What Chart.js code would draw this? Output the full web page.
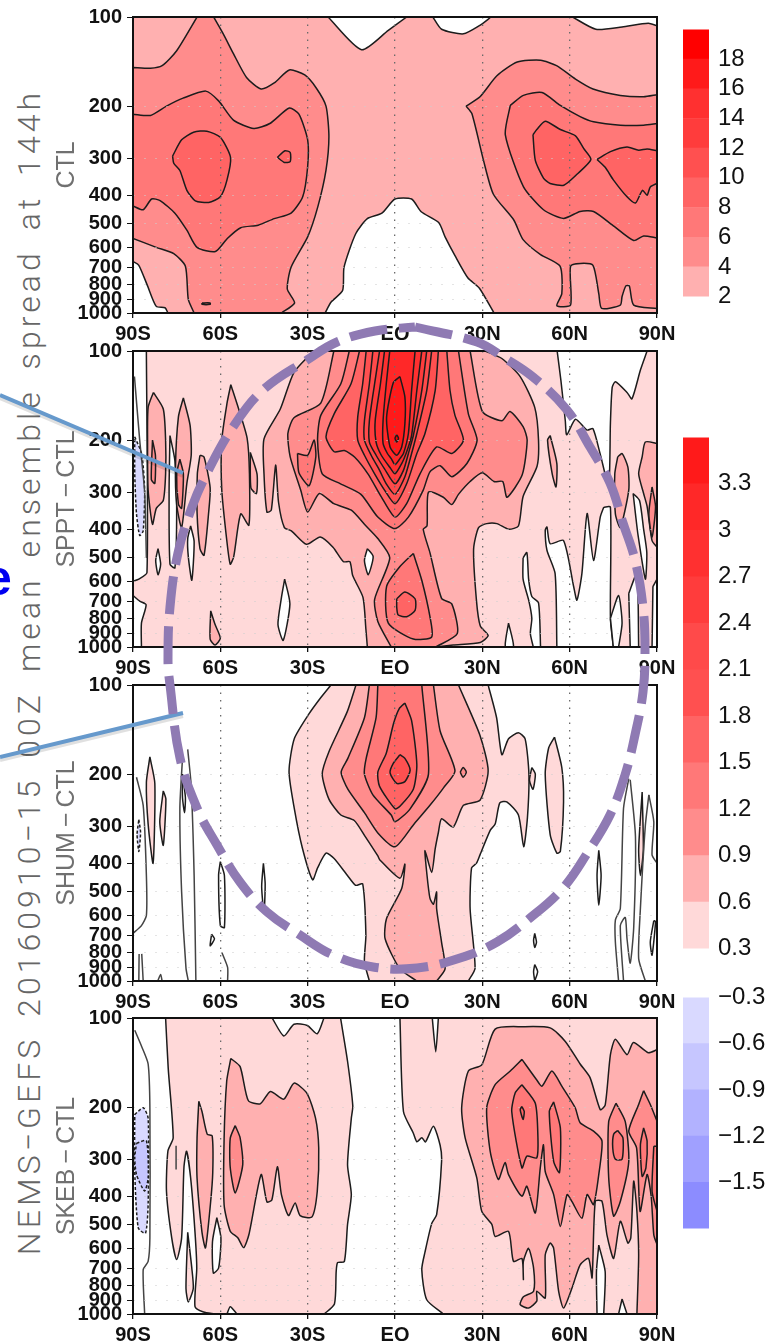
<!DOCTYPE html>
<html>
<head>
<meta charset="utf-8">
<title>NEMS-GEFS ensemble spread</title>
<script src="https://cdn.jsdelivr.net/npm/chart.js@4/dist/chart.umd.min.js"></script>
<style>
  html, body { margin: 0; padding: 0; background: #fff; }
  #page { position: relative; width: 780px; height: 1343px; overflow: hidden; }
  canvas { position: absolute; }
  #runTitle { position: absolute; left: 29px; top: 672px; transform: translate(-50%, -50%) rotate(-90deg);
    white-space: nowrap; font: 300 32px Roboto, "Liberation Sans", sans-serif; letter-spacing: 4.05px; word-spacing: 7px; color: #666; }
  #cutWord { position: absolute; left: -16px; top: 549px; font: bold 50px "Liberation Sans", sans-serif; color: #0000f0; }
</style>
</head>
<body>
<div id="page">
  <div id="runTitle">NEMS−GEFS 20160910−15 00Z mean ensemble spread at 144h</div>
  <div id="cutWord">e</div>
  <canvas id="c_ctl" width="629" height="340" style="left:52px;top:0px"></canvas>
  <canvas id="c_sppt" width="629" height="340" style="left:52px;top:334px"></canvas>
  <canvas id="c_shum" width="629" height="340" style="left:52px;top:668px"></canvas>
  <canvas id="c_skeb" width="629" height="340" style="left:52px;top:1001px"></canvas>
  <canvas id="c_bar1" width="97" height="314" style="left:683px;top:6px"></canvas>
  <canvas id="c_bar2" width="97" height="558" style="left:683px;top:414px"></canvas>
  <canvas id="c_bar3" width="97" height="278" style="left:683px;top:974px"></canvas>
  <canvas id="c_notes" width="780" height="1343" style="left:0;top:0"></canvas>
</div>
<script>
/* shades shared by the panels, lightest to darkest */
const WHITE = '#ffffff', S1 = '#ffd9d9', S2 = '#ffb0b0', S3 = '#ff8c8c', S4 = '#ff7878', S5 = '#ff6464',
      S6 = '#ff5050', S7 = '#ff4a4a', S8 = '#ff3c3c', S9 = '#ff3030', S10 = '#ff2828', S11 = '#ff1a1a', S12 = '#ff0000',
      B1 = '#d9d9ff', B2 = '#c6c6ff', B3 = '#b2b2ff', B4 = '#a0a0ff', B5 = '#8c8cff';

const latTicks = [-90, -60, -30, 0, 30, 60, 90];
const latLabels = ['90S', '60S', '30S', 'EQ', '30N', '60N', '90N'];
const pressureTicks = [100, 200, 300, 400, 500, 600, 700, 800, 900, 1000];

/* ── CTL contours, [lat, hPa] ── */
const ctl2 = [[-90,100],[-23,100],[-11.5,129],[-2.3,111],[4,100],[13,100],[16,110],[23.5,114],[29,107],[33,100],[61,100],[69,110],[78,108],[87,105],[90,107],[90,1000],[34,1000],[29,825],[25,760],[20.6,640],[17.2,553],[15,495],[9,455],[5.7,412],[0,412],[-4.5,460],[-9.5,480],[-13.5,540],[-17.5,700],[-18,840],[-22,920],[-24,1000],[-78,1000],[-79,960],[-82,950],[-85,810],[-88,690],[-90,670]];
const ctl4a = [[-90,148],[-84,149],[-80,146],[-75,130],[-68,100],[-62.3,100],[-59,114],[-55.5,133],[-51,160],[-46,175],[-41.5,167],[-36.3,151],[-31,157],[-27,174],[-23.7,200],[-22.7,254],[-23.7,329],[-26.5,437],[-30,553],[-35.7,700],[-37,830],[-34.5,925],[-39,1000],[-69,1000],[-71,900],[-72,695],[-76,630],[-82,600],[-90,560]];
const ctl4b = [[24.4,200],[29.2,186],[35,158],[42,142],[50,140],[55.5,146],[62,162],[68,175],[77.4,184],[85.4,186],[90,183],[90,965],[82,940],[80.5,810],[79.3,810],[78,880],[77.4,940],[71,965],[70,860],[68,690],[63.7,680],[60.3,695],[60.3,940],[55.6,945],[57.3,860],[56.7,695],[50,635],[44,565],[40.8,485],[33.8,397],[30.4,305],[26.4,212]];
const ctl6a = [[-90,213],[-84,215],[-78.5,200],[-72.8,188],[-65,178],[-60.6,192],[-55.5,223],[-48.5,238],[-43,229],[-36.3,203],[-33,213],[-30,260],[-30,320],[-31.7,405],[-35.7,460],[-41.5,480],[-47,505],[-53,515],[-57.6,560],[-61.7,620],[-68,600],[-71.5,525],[-75.6,460],[-80.7,417],[-83.6,412],[-86.5,448],[-90,435]];
const ctl6b = [[39.6,199],[44.1,184],[50.5,180],[56.8,199],[63.6,217],[68.2,226],[77.4,232],[85.4,232],[90,229],[90,558],[85.4,549],[82,569],[75.3,510],[68.2,454],[63.6,454],[57.9,479],[51,448],[44.1,374],[37.9,250]];
const ctl8a = [[-76.4,295],[-73.3,260],[-69.2,245],[-64.6,243],[-60,255],[-56.5,298],[-57.7,355],[-60,405],[-64,423],[-68.6,418],[-71.5,385],[-73.9,330],[-76,312]];
const ctl8b = [[-40.4,298],[-37.8,283],[-36,287],[-36,308],[-38,310]];
const ctl8c = [[-66.3,925],[-63.5,925],[-63.5,935],[-66.3,935]];
const ctl8d = [[47.4,250],[48.7,240],[51.6,225],[56.8,240],[62,252],[64.8,278],[67.3,303],[62.5,340],[58,370],[53.3,365],[51,350],[48.2,305]];
const ctl8e = [[69.4,303],[74,285],[79.7,275],[83.7,282],[86.6,279],[90,283],[90,365],[87.7,375],[86.6,400],[85,385],[82.6,425],[79.7,405],[75,355],[72.2,322]];

/* ── SPPT-CTL contours ── */
const sppt3 = [[-85.4,100],[-85.2,560],[-88,590],[-90,600],[-90,670],[-87.7,700],[-85.5,720],[-87.1,830],[-87.1,1000],[90,1000],[90,100]];
const spptHoleTop = [[55.7,100],[57,126],[58.5,172],[59,192],[62,170],[66,185],[68,183],[70.5,223],[73.4,285],[74,175],[74.6,133],[75.7,127],[79.7,138],[81.4,145],[84.3,116],[86.6,100]];
const spptHoleLow = [[71.7,337],[70.5,364],[68.2,510],[66,354],[64.2,565],[62.5,695],[61.4,627],[57.9,437],[53.3,448],[52.2,393],[51.6,404],[52.2,471],[55,565],[55.6,1000],[75,1000],[74,800],[74,337]];
const spptHole1 = [[44,500],[45.3,480],[45.9,590],[47,675],[49.3,710],[50,1000],[47.5,1000],[46.5,900],[47,800],[46,700],[44,590]];
const spptHole2 = [[39,830],[40.7,995],[37.9,995]];
const spptHole3 = [[74,800],[76.8,670],[78,830],[76.8,1000],[75,1000]];
const spptHole4 = [[80.3,660],[83.1,565],[83.7,1000],[80.8,1000]];
const spptHole5 = [[88.6,625],[90,590],[90,1000],[88.3,1000]];
const spptHole6 = [[81.8,303],[82.6,355],[83.5,420],[86,590],[86.5,480],[85.4,400],[84,320]];
const spptHole7 = [[-81.4,465],[-80.5,525],[-81.4,570],[-82.2,510]];
const spptHole8 = [[-77.3,193],[-75.6,235],[-75,340],[-75.6,540],[-77.3,525],[-77.6,295]];
const spptHole9 = [[-70.2,390],[-69,440],[-69.8,595],[-71,495],[-71.2,430]];
const spptHole10 = [[-37.9,590],[-36.1,715],[-38.4,950],[-40.2,840],[-39,680]];
const spptHole11 = [[-9.5,465],[-7.5,495],[-9.2,570],[-10.5,510]];
const spptNeg = [[-89.4,195],[-87,223],[-86,295],[-86.5,405],[-87.7,420],[-88.8,355],[-89.4,260]];
const spptEdge = [[-89.5,122],[-87.7,200],[-86,300],[-85.4,500]];

const spptA = [[-83,138],[-79.6,157],[-78.8,200],[-78.8,260],[-79.6,320],[-82,340],[-83.3,385],[-84.8,295],[-85,200],[-84.8,155]];
const spptB = [[-72.7,144],[-70.4,178],[-70,225],[-71.5,280],[-73.3,395],[-75,330],[-75.4,245],[-74.4,167]];
const spptC = [[-67,225],[-65.6,228],[-63.5,290],[-64,350],[-65.6,490],[-67,465],[-68,350],[-67.9,260]];
const spptD = [[-56.4,130],[-53.7,157],[-50.8,197],[-50,260],[-50.2,388],[-53,355],[-55.4,495],[-56.6,525],[-57.8,435],[-59.5,295],[-59.5,200],[-57.7,150]];
const spptE = [[-49.7,220],[-47.4,260],[-47.6,303],[-49.5,290]];
const spptF = [[-63.3,755],[-61.8,840],[-60,935],[-61.8,985],[-63.5,940]];
const spptG = [[53.3,193],[55.6,240],[55.3,288],[54,260],[52.4,200]];
const spptH = [[76.5,228],[78,222],[80,247],[80.3,295],[77.4,395],[75.7,355],[75.5,260]];
const spptI = [[84.9,228],[86,203],[90,205],[90,460],[88.3,437],[86.6,335],[85.4,303],[83.7,260]];
const spptA2 = [[-83.3,200],[-82.3,225],[-82.5,280],[-83.7,272]];
const spptB2 = [[-73.9,232],[-72.7,260],[-73.3,340],[-74.4,330],[-75,260]];
const spptI2 = [[88.3,288],[89.5,335],[88.3,425],[87.2,355]];

const sppt6 = [[-28,100],[-34.7,118],[-39.4,157],[-45,198],[-45,260],[-44,350],[-42.5,345],[-41,243],[-40,325],[-38,395],[-35.6,405],[-30.4,450],[-25.7,425],[-21.3,460],[-17.7,515],[-15.5,515],[-14.5,575],[-11,680],[-10,870],[-9.5,1000],[14,1000],[20,985],[29.3,965],[32,915],[29.3,850],[28,700],[27,468],[28.7,395],[31.5,383],[35,383],[39,400],[42.4,390],[44,310],[48.8,245],[49.3,200],[48,155],[43,122],[36.7,106],[31,100]];
const sppt9 = [[-21,100],[-25.5,150],[-34.7,168],[-36.8,190],[-36,228],[-32.4,295],[-30,350],[-26,303],[-21,328],[-15,345],[-10.5,385],[-5.9,430],[-1.8,500],[-7,690],[-5.9,820],[-1.3,1000],[14,1000],[21.4,900],[19.5,715],[16,685],[12,480],[9.7,400],[11,390],[11.5,300],[16.6,312],[19.5,330],[21.8,305],[25.8,276],[30,258],[34,276],[37,276],[38.5,312],[43.7,262],[45.4,200],[44,180],[39.5,160],[36.7,172],[30,160],[25.8,100]];
const sppt12 = [[-15.7,100],[-18.6,129],[-25.5,165],[-26.6,200],[-25,260],[-18.7,281],[-11.7,305],[-5.9,364],[0,398],[4.6,364],[9.7,295],[12,256],[15.5,244],[19.5,266],[24.7,240],[28.2,200],[25.2,163],[21.8,100]];
const sppt12b = [[-33.5,222],[-30,225],[-27.8,200],[-27.2,228],[-29.5,285],[-33,258]];
const sppt12c = [[6.3,483],[9.2,595],[12,790],[12.6,925],[6.3,940],[-2.3,830],[-2.9,625],[1.7,535]];
const sppt15c = [[0.6,687],[3.4,652],[6.9,687],[6.9,752],[4,790],[1.1,780],[0.6,735]];
const sppt15 = [[-12.2,100],[-15.1,129],[-20.9,163],[-23.7,195],[-20.9,219],[-17.4,217],[-13.9,228],[-9.3,260],[-4.7,311],[0,364],[4,328],[8.6,260],[14.3,211],[19.5,222],[23.5,200],[20.6,165],[18.9,136],[17.8,100]];
const sppt18 = [[-9.9,100],[-11.1,129],[-12.8,167],[-12.8,200],[-10.5,225],[-7,260],[-3.6,295],[0,328],[4,281],[7.5,222],[10.3,190],[13.8,136],[14.9,100]];
const sppt21 = [[-7.6,100],[-8.8,129],[-10.5,172],[-10.5,200],[-8.2,225],[-5.3,253],[-3,281],[0,305],[3.4,266],[5.7,222],[7.5,190],[10.9,136],[12.6,100]];
const sppt24 = [[-5.3,100],[-7,129],[-8.8,172],[-8.8,203],[-6.5,225],[-3.6,250],[0,281],[2.9,253],[4.6,222],[6.3,193],[9.2,136],[10.9,100]];
const sppt27 = [[-3.6,100],[-5,129],[-6.8,172],[-6.5,203],[-4.7,225],[-1.8,247],[0,260],[2.3,240],[3.8,222],[5.7,193],[7.5,136],[9.2,100]];
const sppt30 = [[-1.8,100],[-3,129],[-4.1,172],[-4.1,205],[-2.6,222],[-1.3,231],[0,242],[1.7,231],[2.9,222],[4.6,190],[5.7,136],[6.9,100]];
const sppt33 = [[1.7,122],[3.4,143],[3.4,176],[2.3,211],[0.6,225],[-1.7,211],[-2.9,168],[-0.6,128]];
const sppt36 = [[0.6,192],[1.2,197],[0.6,203],[0,197]];

/* ── SHUM-CTL contours ── */
const shum3 = [[-22,100],[-25.4,110],[-29.5,125],[-34.6,152],[-36.4,196],[-34.6,261],[-31.8,356],[-28.3,455],[-26.6,415],[-23.7,370],[-21,385],[-16.4,439],[-13.5,475],[-11.1,470],[-10,700],[-10.5,860],[-8.8,1000],[25.2,1000],[27.5,905],[25.8,570],[26.3,415],[28,400],[29.2,375],[32.7,310],[34.4,295],[36,250],[38.4,248],[42.4,275],[44.2,352],[45.5,280],[46,200],[44.7,152],[42.4,145],[39,152],[36.7,172],[34.9,129],[32,100]];
const shum3b = [[54.8,150],[57.3,190],[57.9,248],[56.8,365],[55.6,370],[53.3,320],[51.6,200],[52.8,163]];
const shum3c = [[47,190],[48.2,200],[47.4,225],[46.2,210]];
const shum3d = [[-84.2,175],[-82.5,215],[-83.1,400],[-84.8,295],[-85.4,213]];
const shum3e = [[-79.6,228],[-78.7,243],[-79.6,348],[-80.8,290]];
const shum3f = [[84.9,230],[85.3,360],[84.3,440],[83.7,360]];
const shum6 = [[-13.4,100],[-16.4,123],[-22.7,168],[-25,200],[-22.7,243],[-18.6,275],[-14,287],[-10.5,322],[-5.9,378],[-5.2,390],[1.7,450],[3.4,403],[2.3,487],[-2.9,615],[-3.4,720],[1.7,910],[7.5,1000],[14.3,1000],[17.2,910],[16,740],[14.3,570],[14.3,500],[13.2,550],[12,525],[10.9,430],[10.3,362],[12.6,430],[13.8,358],[14.9,315],[16,283],[20,302],[23.5,255],[29.2,245],[32,195],[29.2,148],[21.8,100]];
const shum9 = [[-8.8,100],[-10.5,129],[-16.2,177],[-18.5,197],[-16.2,225],[-10.5,270],[-5.9,316],[0,352],[6.3,297],[12,255],[16.6,223],[20.6,195],[15.5,143],[13.2,100]];
const shum9b = [[22.4,197],[23.4,190],[24.5,197],[23.4,205]];
const shum12 = [[-5.9,100],[-6.5,129],[-9.9,177],[-10.5,200],[-7.6,235],[-1.3,275],[0,290],[5.2,262],[11.5,200],[9.2,100]];
const shum15 = [[3.4,115],[5.7,132],[7.5,186],[6.3,225],[1.7,257],[0,262],[-5.3,220],[-5.9,197],[-3,170],[-0.5,135],[1.5,120]];
const shum18 = [[1.7,172],[3.4,177],[5.2,194],[3.4,212],[0.6,215],[-1.7,198],[-0.6,184]];
const shumNeg = [[-88,285],[-87.4,315],[-88,365],[-88.6,320]];
const shumLineA = [[-88.8,205],[-86.5,255],[-85.4,440],[-85.4,600],[-87.1,650],[-90,690]];
const shumLineB = [[-73,177],[-73.9,261],[-73.3,500],[-71.8,905],[-71,1000]];
const shumLineC = [[-71.2,165],[-70,220],[-69,440],[-68.4,1000]];
const shumLineD = [[-59.5,800],[-57.5,900],[-57.5,1000]];
const shumLineE = [[-87,810],[-86.5,1000]];
const shumLineF = [[-88,1000],[-87.9,810]];
const shumLineG = [[-81.5,1000],[-80.5,950],[-80,1000]];
const shumLineR1 = [[80.3,207],[78.5,261],[77.4,569],[75.7,623],[75.7,738],[76.8,1000]];
const shumLineR2 = [[80.8,209],[82.6,325],[82,660],[80.8,870],[79.7,720],[79.1,610],[77.4,650],[78.5,1000]];
const shumLineR4 = [[87.2,235],[86,298],[84.3,569],[83.7,840],[86,1000]];
const shumLineR5 = [[87.2,235],[88.9,290],[88.3,375],[90,400]];
const shumLoopA = [[-73,200],[-72,240],[-72.3,270],[-73,240]];
const shumLoopB = [[-60,395],[-58.6,440],[-58.6,660],[-60,650],[-60.6,440]];
const shumLoopC = [[-45.2,400],[-44.6,470],[-45,590],[-45.8,480]];
const shumLoopD = [[-63,695],[-62,720],[-63.5,760]];
const shumLoopR = [[88.9,625],[87.7,738],[88.3,818],[89.5,630]];
const shumLoopS = [[70,362],[70.8,440],[70,555],[69.4,440]];
const shumLoopT = [[48,690],[48.6,740],[48,770],[47.6,730]];
const shumLoopU = [[48,880],[49,930],[48,1000],[47.6,930]];

/* ── SKEB-CTL contours ── */
const skeb3a = [[-78.8,100],[-77.9,148],[-76.2,254],[-78,281],[-78.5,385],[-76.7,553],[-75,655],[-73.3,553],[-72.5,320],[-71.6,282],[-70.2,347],[-68.7,530],[-68.1,700],[-68.7,944],[-65.8,985],[-62,1000],[-57.7,1000],[-56.6,945],[-54.3,1000],[-24.3,1000],[-20.8,925],[-20.2,718],[-19.7,670],[-17.4,665],[-16.3,498],[-15,395],[-16.3,313],[-15,218],[-14.5,198],[-16.3,140],[-18.7,100]];
const skeb3b = [[1.7,100],[2.9,207],[6.3,245],[7.5,262],[9.2,254],[10.5,262],[13.2,232],[15.5,269],[16,305],[14.3,462],[12.6,495],[10.3,618],[9.2,708],[10.9,895],[16.6,1000],[90,1000],[90,100]];
const skeb3c = [[-71.2,530],[-69.8,700],[-69.3,820],[-71,910],[-71.8,820]];
const skebHole1 = [[-42.2,100],[-38.2,115],[-34.7,105],[-30.1,106],[-26.7,113],[-24.4,100]];
const skebHole2 = [[-61.2,473],[-59.8,553],[-60.6,700],[-62.4,727],[-62.7,570]];
const skebHole3 = [[12.8,100],[14,130],[14.9,100]];
const skebHole4 = [[70,585],[72.2,720],[71.7,1000],[69.4,1000],[69.2,720]];
const skebHole5 = [[78,890],[79.7,1000],[76.8,1000]];
const skebNeg1 = [[-89.4,212],[-86.5,201],[-84.8,218],[-84.8,426],[-85.7,533],[-88.2,512],[-89.4,330]];
const skebNeg2 = [[-88.8,265],[-85.4,260],[-84.8,347],[-86,384],[-88.8,338],[-89.4,297]];
const skebEdge = [[-89.4,110],[-87,125],[-84.8,143],[-84.2,201],[-84.2,553],[-84.8,664],[-86.5,708],[-86,1000]];
const skebMark = [[-75.2,270],[-75.2,325]];
const skeb6a = [[-67.4,191],[-66.3,207],[-64.5,247],[-62.8,250],[-62.6,332],[-63.4,425],[-65.1,598],[-66.3,530],[-68,347],[-68,255]];
const skeb6b = [[-56.4,137],[-53.2,146],[-50.4,190],[-46.3,195],[-42.8,177],[-38.2,188],[-34.7,166],[-30.2,180],[-27.3,218],[-26.2,275],[-26.7,385],[-28.5,470],[-32.6,465],[-34.3,422],[-36.6,465],[-39,396],[-40.4,318],[-42.3,412],[-44,418],[-46,338],[-50.2,540],[-52,597],[-54,553],[-56.6,525],[-58.7,428],[-58.7,255],[-57.8,163]];
const skeb6c = [[90,128],[90,1000],[83.1,1000],[83.7,632],[83.1,450],[82,356],[81,553],[80,576],[77.4,486],[75.1,649],[72.8,540],[71.1,416],[68.8,416],[67.7,755],[66.5,649],[63.6,682],[60.8,817],[57.9,955],[56.2,837],[54.5,600],[53.3,576],[51.6,632],[51.6,883],[48.7,837],[48.7,905],[45.9,955],[43,930],[44.1,875],[47.6,837],[47.6,700],[45.9,600],[44.1,664],[44.1,765],[43.6,649],[40.7,664],[39,526],[34.4,547],[33.3,499],[29.8,450],[28.1,347],[24.1,254],[22.9,201],[25.2,151],[29.8,144],[34.4,109],[44.1,107],[53.3,108],[58.5,120],[63.6,143],[67,159],[70.5,204],[72.2,197],[74,133],[75.7,118],[79.7,133],[81.9,121],[87,131]];
const skeb9a = [[-54.9,231],[-53.2,254],[-52.3,313],[-54.9,390],[-56.6,320],[-56.6,255]];
const skeb9b = [[43.6,138],[48.7,162],[50.5,170],[53.9,151],[57.3,170],[61.9,201],[63.6,226],[68.2,241],[71.1,260],[70,338],[68.2,427],[66,395],[64.2,475],[60.8,417],[59.1,395],[56.8,506],[54.5,395],[51.6,330],[51,268],[49.9,321],[48.2,456],[45.3,370],[43.6,400],[39,338],[37.8,308],[35.5,351],[32.7,282],[31.5,201],[34.4,168],[39.6,151]];
const skeb9c = [[75.9,194],[79.1,224],[80.3,305],[77.4,417],[75.1,467],[73.4,346],[73.4,224]];
const skeb9d = [[85.4,176],[87.7,196],[90,223],[90,583],[88.9,540],[88,400],[86.6,338],[84.2,450],[83,275],[80.3,241],[83.7,196]];
const skeb12a = [[43.6,168],[48.2,194],[49.1,254],[48.7,297],[45.3,293],[43.6,321],[40.1,207],[41.3,179]];
const skeb12b = [[54.5,192],[56.8,235],[56.5,333],[54.5,305],[53,207]];
const skeb12c = [[76.5,240],[78.3,254],[78,300],[75.7,300],[74.8,275],[75.1,247]];
const skeb12d = [[85.4,235],[86.6,261],[86.2,321],[84.9,343],[84.3,268]];
const skeb12e = [[88.9,271],[90,271],[90,450],[88.3,385]];
const skeb15 = [[43.6,199],[44.4,207],[44,220],[43,204]];

/* shade, contour, kind: 'n' dashed negative, 'o' open line with no fill */
const ctlLayers = [[S2,ctl2],[S3,ctl4a],[S3,ctl4b],[S4,ctl6a],[S4,ctl6b],[S5,ctl8a],[S5,ctl8b],[S5,ctl8c],[S5,ctl8d],[S5,ctl8e]];
const spptLayers = [[S1,sppt3],[WHITE,spptHoleTop],[WHITE,spptHoleLow],[WHITE,spptHole1],[WHITE,spptHole2],[WHITE,spptHole3],[WHITE,spptHole4],[WHITE,spptHole5],[WHITE,spptHole6],[WHITE,spptHole7],[WHITE,spptHole8],[WHITE,spptHole9],[WHITE,spptHole10],[B1,spptNeg,'n'],[null,spptEdge,'o'],
  [S2,spptA],[S2,spptB],[S2,spptC],[S2,spptD],[S2,spptE],[S2,spptF],[S2,spptG],[S2,spptH],[S2,spptI],[S3,spptA2],[S3,spptB2],[S3,spptI2],
  [S2,sppt6],[WHITE,spptHole11],[S3,sppt9],[S4,sppt12],[S4,sppt12b],[S4,sppt12c],[S5,sppt15c],[S5,sppt15],[S6,sppt18],[S7,sppt21],[S8,sppt24],[S9,sppt27],[S10,sppt30],[S11,sppt33],[S12,sppt36]];
const shumLayers = [[S1,shum3],[S1,shum3b],[S1,shum3c],[S1,shum3d],[S1,shum3e],[S1,shum3f],[B1,shumNeg,'n'],[S2,shum6],[S3,shum9],[S3,shum9b],[S4,shum12],[S5,shum15],[S6,shum18],
  [null,shumLineA,'o'],[null,shumLineB,'o'],[null,shumLineC,'o'],[null,shumLineD,'o'],[null,shumLineE,'o'],[null,shumLineF,'o'],[null,shumLineG,'o'],[null,shumLineR1,'o'],[null,shumLineR2,'o'],[null,shumLineR4,'o'],[null,shumLineR5,'o'],
  [WHITE,shumLoopA],[WHITE,shumLoopB],[WHITE,shumLoopC],[WHITE,shumLoopD],[WHITE,shumLoopR],[WHITE,shumLoopS],[WHITE,shumLoopT],[WHITE,shumLoopU]];
const skebLayers = [[S1,skeb3a],[S1,skeb3b],[S1,skeb3c],[WHITE,skebHole1],[WHITE,skebHole2],[WHITE,skebHole3],[WHITE,skebHole4],[WHITE,skebHole5],[B1,skebNeg1,'n'],[B2,skebNeg2,'n'],[null,skebEdge,'o'],[null,skebMark,'o'],
  [S2,skeb6a],[S2,skeb6b],[S2,skeb6c],[S3,skeb9a],[S3,skeb9b],[S3,skeb9c],[S3,skeb9d],[S4,skeb12a],[S4,skeb12b],[S4,skeb12c],[S4,skeb12d],[S4,skeb12e],[S5,skeb15]];

/* colour bars */
const bar1Edges = [2, 4, 6, 8, 10, 12, 14, 16, 18, 20];
const bar1Colors = [S2, S3, S4, S5, S6, S8, S9, S11, S12];
const bar2Edges = [0.3, 0.6, 0.9, 1.2, 1.5, 1.8, 2.1, 2.4, 2.7, 3, 3.3, 3.6];
const bar2Colors = [S1, S2, S3, S4, S5, S6, S7, S8, S9, S10, S11];
const bar3Edges = [-1.8, -1.5, -1.2, -0.9, -0.6, -0.3];
const bar3Colors = [B5, B4, B3, B2, B1];

/* annotations drawn over the figure, in page units */
const ringPts = [[415,327],[477,342],[503,357],[533,377],[567,410],[590,447],[610,483],[623,523],[635,560],[643,607],[645,650],[643,692],[635,735],[625,775],[610,815],[588,852],[563,888],[530,918],[497,942],[460,958],[417,968],[373,967],[333,955],[300,935],[267,912],[240,882],[217,845],[197,808],[180,758],[170,685],[168,660],[170,607],[178,553],[192,507],[207,473],[233,427],[263,390],[307,360],[337,342],[375,331],[415,327]];
const pointerTop = [[0,395],[183,473]];
const pointerLow = [[0,757],[183,713]];

/* boundary vertices are doubled so the spline keeps a sharp corner on the frame */
function toPoints(pts, closed) {
  const out = [];
  pts.forEach(([x, y]) => {
    out.push({ x, y });
    if (Math.abs(x) === 90 || y === 100 || y === 1000) out.push({ x, y });
  });
  if (closed) out.push({ x: pts[0][0], y: pts[0][1] });
  return out;
}

const frame = {
  id: 'frame',
  afterDraw(chart) {
    const { ctx, chartArea: a } = chart;
    ctx.save();
    ctx.strokeStyle = '#111';
    ctx.lineWidth = 2;
    ctx.strokeRect(a.left, a.top, a.right - a.left, a.bottom - a.top);
    ctx.restore();
  }
};

function drawPanel(id, name, layers) {
  const datasets = layers.map(([shade, pts, kind], i) => ({
    data: toPoints(pts, kind !== 'o'),
    showLine: true,
    fill: kind === 'o' ? false : 'shape',
    backgroundColor: shade || 'transparent',
    borderColor: kind === 'o' ? '#444' : '#1c1c1c',
    borderWidth: 1.5,
    borderDash: kind === 'n' ? [3, 2] : [],
    pointRadius: 0,
    tension: 0.22,
    order: layers.length - i
  }));
  new Chart(document.getElementById(id).getContext('2d'), {
    type: 'scatter',
    data: { datasets },
    plugins: [frame],
    options: {
      responsive: false,
      animation: false,
      events: [],
      layout: { padding: { top: 8, right: 24, left: 0, bottom: 0 } },
      plugins: { legend: { display: false }, tooltip: { enabled: false } },
      scales: {
        x: {
          type: 'linear', min: -90, max: 90,
          afterBuildTicks: s => { s.ticks = latTicks.map(value => ({ value })); },
          afterFit: s => { s.height = 27; },
          grid: { z: 1, lineWidth: 1.3, color: c => (Math.abs(c.tick.value) === 90 ? 'transparent' : '#6a6a6a'), tickColor: '#111', tickLength: 5, tickBorderDash: [] },
          border: { display: false, dash: [1.5, 6] },
          ticks: { autoSkip: false, maxRotation: 0, padding: 4, color: '#111',
            font: { family: 'Liberation Sans', size: 20, weight: 'bold' },
            callback: v => latLabels[latTicks.indexOf(v)] }
        },
        y: {
          type: 'logarithmic', min: 100, max: 1000, reverse: true,
          afterBuildTicks: s => { s.ticks = pressureTicks.map(value => ({ value })); },
          afterFit: s => { s.width = 81; },
          title: { display: true, text: name, color: '#707070', padding: 0,
            font: { family: 'Liberation Sans', size: 25 } },
          grid: { z: 1, color: c => ((c.tick.value === 100 || c.tick.value === 1000) ? 'transparent' : 'rgba(205,205,205,0.55)'), tickColor: '#111', tickLength: 6, tickBorderDash: [] },
          border: { display: false, dash: [2, 9] },
          ticks: { autoSkip: false, padding: 5, color: '#111',
            font: { family: 'Liberation Sans', size: 20, weight: 'bold' },
            callback: v => String(v) }
        }
      }
    }
  });
}

function drawBar(id, edges, colors, labels) {
  const datasets = colors.map((c, i) => ({
    data: [[edges[i], edges[i + 1]]],
    backgroundColor: c,
    barPercentage: 1,
    categoryPercentage: 1
  }));
  new Chart(document.getElementById(id).getContext('2d'), {
    type: 'bar',
    data: { labels: [''], datasets },
    options: {
      responsive: false,
      animation: false,
      events: [],
      layout: { padding: { top: 12, bottom: 12, left: 0, right: 0 } },
      plugins: { legend: { display: false }, tooltip: { enabled: false } },
      scales: {
        x: { display: false, stacked: true },
        y: {
          position: 'right',
          min: edges[0], max: edges[edges.length - 1],
          afterBuildTicks: s => { s.ticks = labels.map(value => ({ value })); },
          afterFit: s => { s.width = 71; },
          grid: { display: false, drawTicks: false },
          border: { display: false },
          ticks: { autoSkip: false, padding: 9, color: '#111',
            font: { family: 'Liberation Sans', size: 24 },
            callback: v => (v < 0 ? '−' + Math.abs(v) : String(v)) }
        }
      }
    }
  });
}

function drawNotes() {
  const xy = pts => pts.map(([x, y]) => ({ x, y }));
  const shadow = pts => pts.map(([x, y]) => ({ x, y: y + 3 }));
  new Chart(document.getElementById('c_notes').getContext('2d'), {
    type: 'scatter',
    data: { datasets: [
      { data: xy(ringPts), showLine: true, tension: 0.4, borderColor: '#8f7ab3', borderWidth: 9, borderDash: [38, 12], pointRadius: 0, order: 1 },
      { data: xy(pointerTop), showLine: true, borderColor: '#6699cc', borderWidth: 4, pointRadius: 0, order: 2 },
      { data: xy(pointerLow), showLine: true, borderColor: '#6699cc', borderWidth: 4, pointRadius: 0, order: 2 },
      { data: shadow(pointerTop), showLine: true, borderColor: 'rgba(0,0,0,0.12)', borderWidth: 4, pointRadius: 0, order: 3 },
      { data: shadow(pointerLow), showLine: true, borderColor: 'rgba(0,0,0,0.12)', borderWidth: 4, pointRadius: 0, order: 3 }
    ] },
    options: {
      responsive: false,
      animation: false,
      events: [],
      plugins: { legend: { display: false }, tooltip: { enabled: false } },
      scales: {
        x: { display: false, min: 0, max: 780 },
        y: { display: false, min: 0, max: 1343, reverse: true }
      }
    }
  });
}

drawPanel('c_ctl', 'CTL', ctlLayers);
drawPanel('c_sppt', 'SPPT\u2009−\u2009CTL', spptLayers);
drawPanel('c_shum', 'SHUM\u2009−\u2009CTL', shumLayers);
drawPanel('c_skeb', 'SKEB\u2009−\u2009CTL', skebLayers);
drawBar('c_bar1', bar1Edges, bar1Colors, bar1Edges.slice(0, -1));
drawBar('c_bar2', bar2Edges, bar2Colors, bar2Edges.slice(0, -1));
drawBar('c_bar3', bar3Edges, bar3Colors, bar3Edges.slice(1));
drawNotes();
</script>
</body>
</html>
